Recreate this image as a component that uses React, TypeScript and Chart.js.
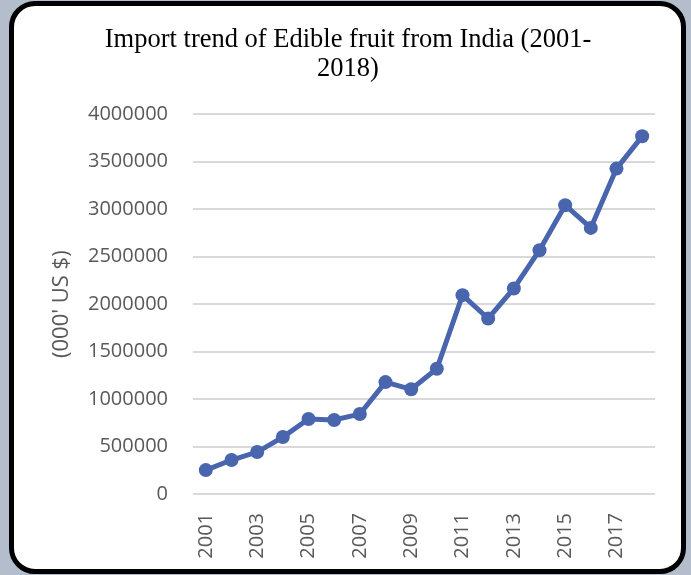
import React, { useEffect, useRef } from "react";
import { Chart, registerables } from "chart.js";

Chart.register(...registerables);

const years: string[] = [
  "2001", "2002", "2003", "2004", "2005", "2006", "2007", "2008", "2009",
  "2010", "2011", "2012", "2013", "2014", "2015", "2016", "2017", "2018",
];
const importValues: number[] = [
  252000, 358000, 442000, 600000, 790000, 779000, 842000, 1179000, 1103000,
  1320000, 2095000, 1849000, 2165000, 2568000, 3042000, 2803000, 3428000, 3768000,
];
const titleLines: string[] = ["Import trend of Edible fruit from India (2001-", "2018)"];
const yAxisTitle = "(000' US $)";
const yMin = 0;
const yMax = 4000000;
const yStep = 500000;

export default function App() {
  const canvasRef = useRef<HTMLCanvasElement | null>(null);

  useEffect(() => {
    document.body.style.margin = "0";
    const canvas = canvasRef.current;
    if (!canvas) return;
    const chart = new Chart(canvas, {
      type: "line",
      data: {
        labels: years,
        datasets: [
          {
            data: importValues,
            borderColor: "#4865ad",
            backgroundColor: "#4865ad",
            borderWidth: 5,
            pointRadius: 7,
            pointBorderWidth: 0,
            pointBackgroundColor: "#4865ad",
            tension: 0,
          },
        ],
      },
      options: {
        animation: false,
        responsive: false,
        maintainAspectRatio: false,
        layout: { padding: { left: 41, right: 36, top: 0, bottom: 0 } },
        plugins: {
          legend: { display: false },
          tooltip: { enabled: false },
          title: {
            display: true,
            text: titleLines,
            color: "#000000",
            font: { family: "'Liberation Serif', 'Times New Roman', serif", size: 26.5, weight: "normal", lineHeight: 1.1 },
            padding: { top: 25, bottom: 31 },
          },
        },
        scales: {
          x: {
            offset: true,
            grid: { display: false },
            border: { display: false },
            ticks: {
              autoSkip: false,
              maxRotation: 90,
              minRotation: 90,
              padding: 11,
              color: "#595959",
              font: { family: "'Open Sans', sans-serif", size: 20 },
              callback: function (_v: any, i: number) {
                return i % 2 === 0 ? years[i] : "";
              },
            },
            afterFit: (scale: any) => {
              scale.height = 81;
            },
          },
          y: {
            min: yMin,
            max: yMax,
            grid: { color: "#d9d9d9", lineWidth: 2, drawTicks: false },
            border: { display: false },
            ticks: {
              stepSize: yStep,
              padding: 25,
              color: "#595959",
              font: { family: "'Open Sans', sans-serif", size: 20 },
              callback: (v: any) => String(v),
            },
            title: {
              display: true,
              text: yAxisTitle,
              color: "#595959",
              font: { family: "'Open Sans', sans-serif", size: 22 },
              padding: { top: 8, bottom: 0 },
            },
            afterFit: (scale: any) => {
              scale.width = 152;
            },
          },
        },
      },
    });
    return () => chart.destroy();
  }, []);

  return (
    <div style={{ position: "relative", width: 691, height: 575, background: "#b4bdcc", overflow: "hidden" }}>
      <div
        style={{
          position: "absolute",
          left: 9,
          top: 1,
          width: 677,
          height: 573,
          boxSizing: "border-box",
          border: "5px solid #000",
          borderRadius: 26,
          background: "#ffffff",
        }}
      />
      <canvas ref={canvasRef} width={691} height={575} style={{ position: "absolute", left: 0, top: 0, width: 691, height: 575 }} />
    </div>
  );
}
